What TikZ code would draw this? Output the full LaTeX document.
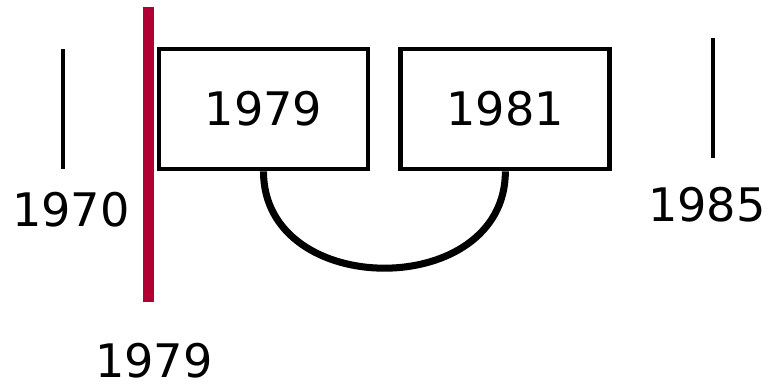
\documentclass[tikz,border=0pt]{standalone}
\usepackage{fontspec}
\setmainfont{DejaVu Sans}
\usetikzlibrary{positioning}
\definecolor{nowred}{RGB}{176,0,52}
\tikzset{
  yearbox/.style={draw, line width=2.8pt, minimum width=4.18cm, minimum height=2.4cm, inner sep=0pt},
  yeartick/.style={line width=2pt},
  yearlabel/.style={inner sep=0pt},
}
\begin{document}
\begin{tikzpicture}[x=0.02cm,y=-0.02cm,font=\fontsize{26.3}{31}\selectfont]
  \useasboundingbox (0,0) rectangle (768,385);
  % the two boxed years
  \node[yearbox] (y1979) at (263.5,109) {1979};
  \node[yearbox, right=0.56cm of y1979] (y1981) {1981};
  \draw[line width=4pt] (y1979.south) .. controls +(0,129) and +(0,129) .. (y1981.south);
  % ticks at both ends
  \draw[yeartick] (63,49) -- (63,169);
  \node[yearlabel] (y1970) at (71,210) {1970};
  \draw[yeartick] (713,38) -- (713,158);
  \node[yearlabel] (y1985) at (707,205) {1985};
  % current year marker
  \draw[nowred, line width=6.2pt] (148.5,7) -- (148.5,302);
  \node[yearlabel] (ynow) at (154,361) {1979};
\end{tikzpicture}
\end{document}
